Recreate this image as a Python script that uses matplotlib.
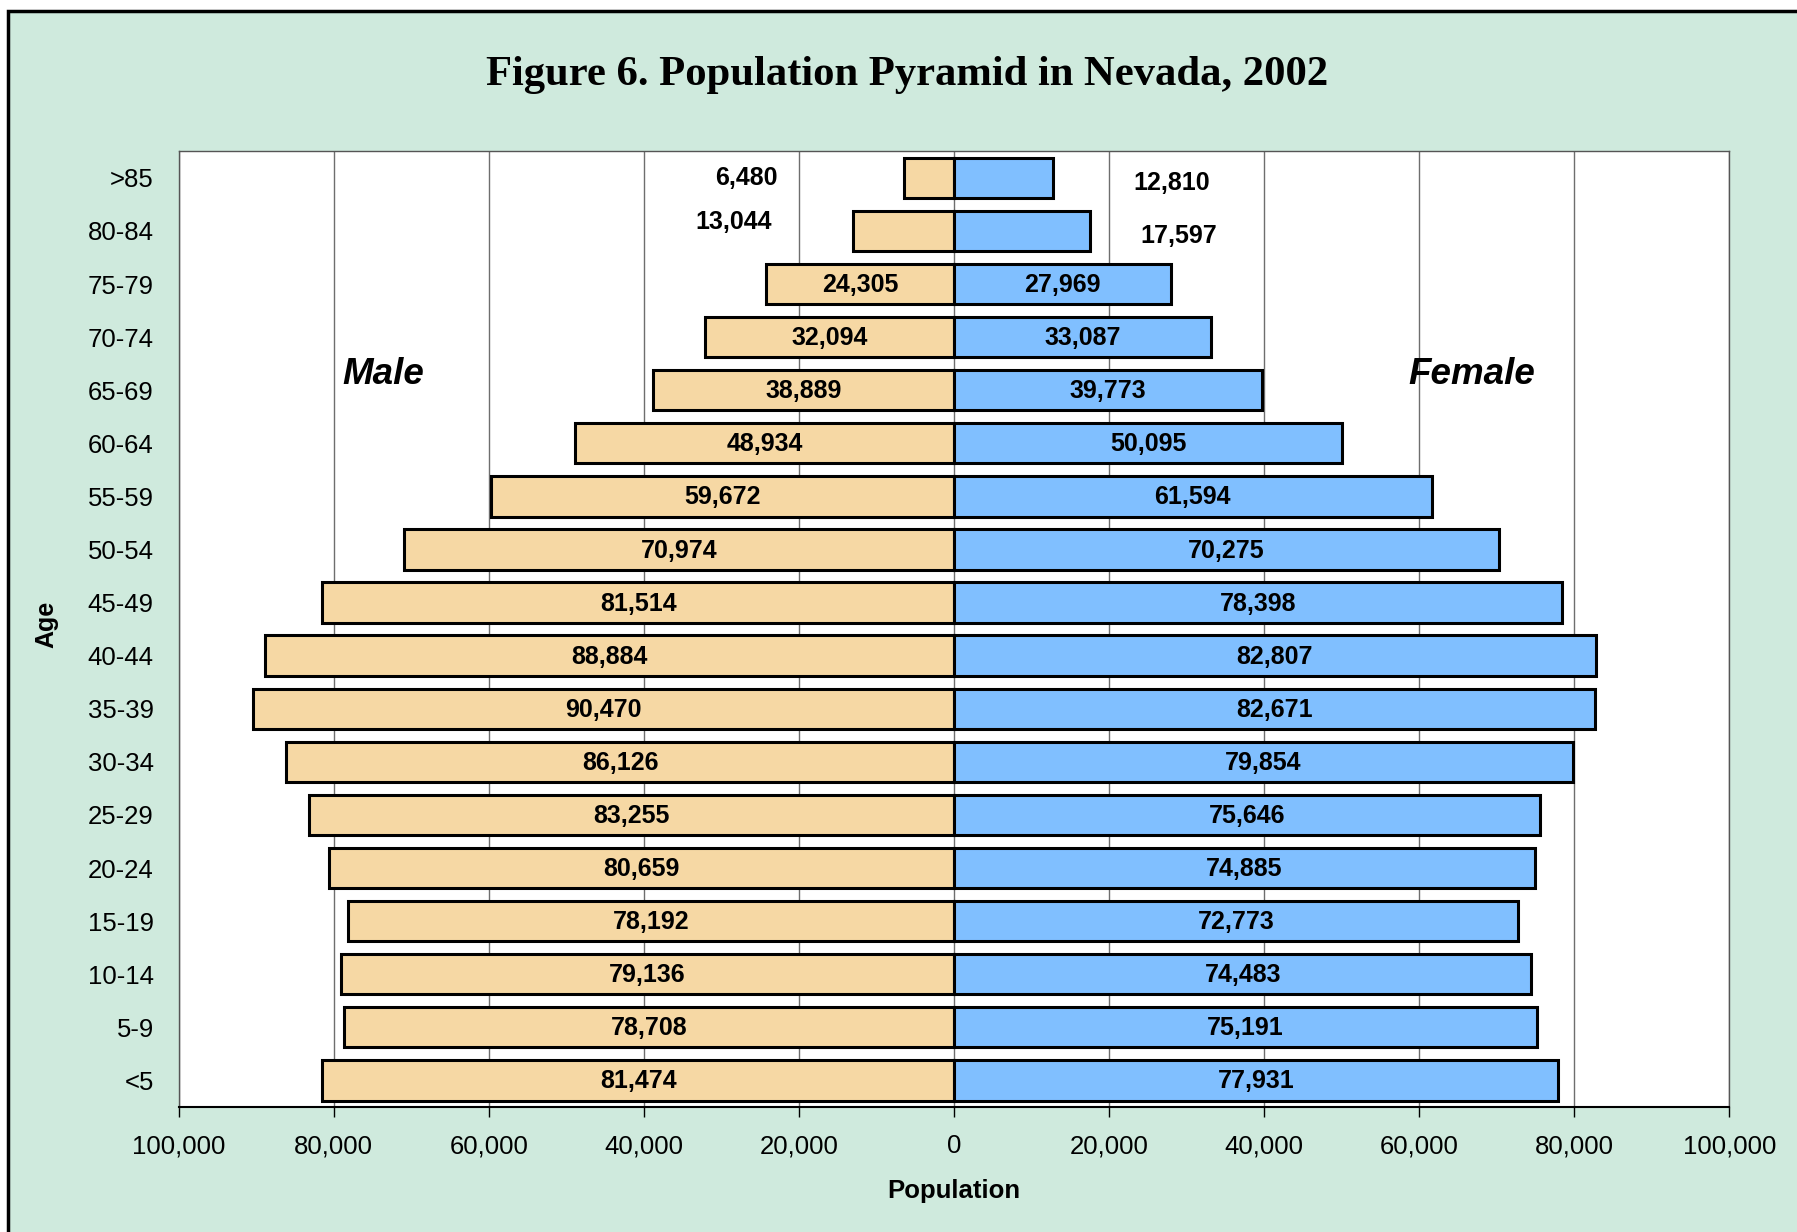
import numpy as np
import matplotlib.pyplot as plt
from matplotlib.patches import Rectangle
from matplotlib.ticker import FuncFormatter

# data, read top (>85) to bottom (<5)
ages = ['>85', '80-84', '75-79', '70-74', '65-69', '60-64', '55-59', '50-54', '45-49',
        '40-44', '35-39', '30-34', '25-29', '20-24', '15-19', '10-14', '5-9', '<5']
male = [6480, 13044, 24305, 32094, 38889, 48934, 59672, 70974, 81514,
        88884, 90470, 86126, 83255, 80659, 78192, 79136, 78708, 81474]
female = [12810, 17597, 27969, 33087, 39773, 50095, 61594, 70275, 78398,
          82807, 82671, 79854, 75646, 74885, 72773, 74483, 75191, 77931]

bg = '#CFEADD'
male_col = '#F6D8A4'
female_col = '#80BFFF'

plt.rcParams['font.family'] = ['Liberation Sans', 'DejaVu Sans']

fig = plt.figure(figsize=(17.97, 12.32), dpi=100, facecolor='white')
# mint panel with black frame (runs off the right / bottom edge like the original)
fig.patches.append(Rectangle((8 / 1797, -0.1), 1.2, 1.1 - 11.5 / 1232,
                             transform=fig.transFigure, facecolor=bg,
                             edgecolor='black', linewidth=2.5, zorder=-10))

ax = fig.add_axes([0.0995, 0.1015, 0.8628, 0.7757])
ax.set_facecolor('white')

n = len(ages)
y = np.arange(n)[::-1]
m = np.array(male)
f = np.array(female)

ax.barh(y, -m, height=0.76, color=male_col, edgecolor='black', linewidth=2.2, zorder=3)
ax.barh(y, f, height=0.76, color=female_col, edgecolor='black', linewidth=2.2, zorder=3)

ax.set_xlim(-100000, 100000)
ax.set_ylim(-0.5, n - 0.5)
ax.set_xticks(np.arange(-100000, 100001, 20000))
ax.xaxis.set_major_formatter(FuncFormatter(lambda v, p: f'{abs(int(v)):,}'))
ax.set_yticks(y)
ax.set_yticklabels(ages)
ax.tick_params(axis='y', length=0, pad=18, labelsize=18.5)
ax.tick_params(axis='x', direction='out', length=7, width=1, pad=12.5, labelsize=18.5)
ax.grid(axis='x', color='#6e6e6e', linewidth=1)
ax.set_axisbelow(True)
for s in ['left', 'top', 'right']:
    ax.spines[s].set_color('#555555')
    ax.spines[s].set_linewidth(1)
ax.spines['bottom'].set_linewidth(1.5)

# value labels
small = {0: ((-26750, 17), (28090, 16.91)), 1: ((-28380, 16.16), (28970, 15.90))}
for i in range(n):
    if i in small:
        (mx, my), (fx, fy) = small[i]
    else:
        mx, my = -m[i] / 2, y[i] - 0.02
        fx, fy = f[i] / 2, y[i] - 0.02
    ax.text(mx, my, f'{m[i]:,}', ha='center', va='center', fontsize=18,
            fontweight='bold', zorder=4)
    ax.text(fx, fy, f'{f[i]:,}', ha='center', va='center', fontsize=18,
            fontweight='bold', zorder=4)

ax.text(-73600, 13.30, 'Male', ha='center', va='center', fontsize=26.5,
        fontweight='bold', style='italic')
ax.text(66800, 13.30, 'Female', ha='center', va='center', fontsize=26.5,
        fontweight='bold', style='italic')

fig.text(0.505, 0.939, 'Figure 6. Population Pyramid in Nevada, 2002', ha='center',
         va='center', fontsize=30.7, fontweight='bold',
         family=['Liberation Serif', 'DejaVu Serif'])
fig.text(0.0256, 0.493, 'Age', rotation=90, ha='center', va='center',
         fontsize=18, fontweight='bold')
fig.text(0.5307, 0.0333, 'Population', ha='center', va='center',
         fontsize=18.5, fontweight='bold')

fig.savefig('out.png', dpi=100, facecolor=fig.get_facecolor())
